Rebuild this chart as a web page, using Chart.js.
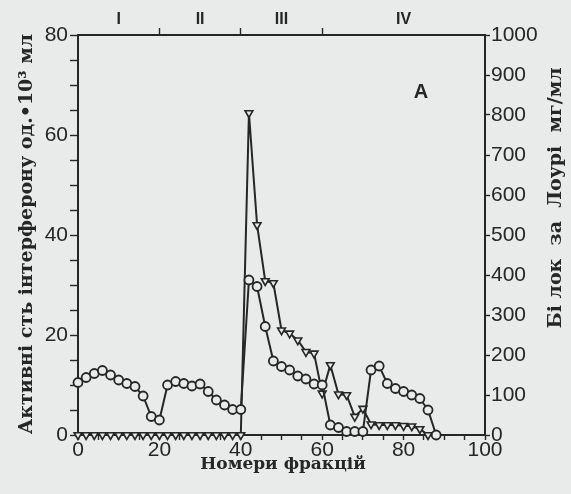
<!DOCTYPE html>
<html>
<head>
<meta charset="utf-8">
<script src="https://cdn.jsdelivr.net/npm/chart.js@4"></script>
<style>
  html, body { margin: 0; padding: 0; background: #e9eaea; }
  #wrap { width: 571px; height: 494px; position: relative; }
</style>
</head>
<body>
<div id="wrap"><canvas id="myChart"></canvas></div>
<script>
// interferon activity (circles, left axis)
const fracActivity = [0, 2, 4, 6, 8, 10, 12, 14, 16, 18, 20, 22, 24, 26, 28, 30, 32, 34, 36, 38, 40,
    42, 44, 46, 48, 50, 52, 54, 56, 58, 60, 62, 64, 66, 68, 70, 72, 74, 76, 78, 80, 82, 84, 86, 88];
const activity = [10.5, 11.5, 12.3, 12.9, 12, 11, 10.3, 9.7, 7.8, 3.7, 3, 10, 10.7, 10.3, 9.8, 10.2, 8.7, 7, 6, 5.1, 5.1,
    31, 29.7, 21.7, 14.8, 13.7, 13, 11.8, 11.2, 10.2, 10, 2, 1.5, 0.7, 0.7, 0.7, 13, 13.8, 10.3, 9.3, 8.7, 8, 7.3, 5, 0];

// protein by Lowry (triangles, right axis)
const fracProtein = [0, 2, 4, 6, 8, 10, 12, 14, 16, 18, 20, 22, 24, 26, 28, 30, 32, 34, 36, 38, 40,
    42, 44, 46, 48, 50, 52, 54, 56, 58, 60, 62, 64, 66, 68, 70, 72, 74, 76, 78, 80, 82, 84, 86];
const protein = [0, 0, 0, 0, 0, 0, 0, 0, 0, 0, 0, 0, 0, 0, 0, 0, 0, 0, 0, 0, 0,
    805, 525, 385, 380, 262, 254, 237, 208, 204, 104, 175, 102, 100, 46, 66, 27, 25, 25, 25, 23, 22, 15, 0];

const leftTicks = [0, 20, 40, 60, 80];
const rightTicks = [0, 100, 200, 300, 400, 500, 600, 700, 800, 900, 1000];
const xTicks = [0, 20, 40, 60, 80, 100];
const sectionBounds = [20, 40, 60];
const sectionLabels = { 10: 'I', 30: 'II', 50: 'III', 80: 'IV' };

const ink = '#262626';
const paper = '#e9eaea';
const tickFont = { family: '"Liberation Sans", sans-serif', size: 21 };

const titles = {
    id: 'titles',
    afterDraw(chart) {
        const c = chart.ctx;
        c.save();
        c.fillStyle = ink;
        c.textAlign = 'center';
        c.textBaseline = 'middle';
        c.font = 'bold 17px "DejaVu Serif", serif';
        c.fillText('Номери фракцій', 283, 465);
        c.font = 'bold 20px "Liberation Sans", sans-serif';
        c.fillText('А', 421, 92);
        c.font = 'bold 19px "DejaVu Serif", serif';
        c.translate(27, 234);
        c.rotate(-Math.PI / 2);
        c.fillText('Активні сть інтерферону од.•10³ мл', 0, 0);
        c.restore();
        c.save();
        c.fillStyle = ink;
        c.textAlign = 'center';
        c.textBaseline = 'middle';
        c.font = 'bold 19px "DejaVu Serif", serif';
        c.translate(556, 198);
        c.rotate(-Math.PI / 2);
        c.fillText('Бі лок  за  Лоурі  мг/мл', 0, 0);
        c.restore();
    }
};

const ctx = document.getElementById('myChart').getContext('2d');
const myChart = new Chart(ctx, {
    type: 'line',
    data: {
        datasets: [{
            label: 'Активність інтерферону',
            data: fracActivity.map((x, i) => ({ x: x, y: activity[i] })),
            yAxisID: 'y',
            borderColor: ink,
            borderWidth: 2,
            pointStyle: 'circle',
            pointRadius: 4.5,
            pointBorderWidth: 1.8,
            pointBorderColor: ink,
            pointBackgroundColor: paper,
            tension: 0,
            clip: false
        }, {
            label: 'Білок за Лоурі',
            data: fracProtein.map((x, i) => ({ x: x, y: protein[i] })),
            yAxisID: 'y2',
            borderColor: ink,
            borderWidth: 2,
            pointStyle: 'triangle',
            rotation: 180,
            pointRadius: 4.5,
            pointBorderWidth: 1.6,
            pointBorderColor: ink,
            pointBackgroundColor: paper,
            tension: 0,
            clip: false
        }]
    },
    options: {
        responsive: true,
        maintainAspectRatio: false,
        animation: false,
        layout: { padding: 0 },
        plugins: { legend: { display: false }, tooltip: { enabled: false } },
        scales: {
            x: {
                type: 'linear',
                position: 'bottom',
                min: 0, max: 100,
                afterFit: (s) => { s.height = 59; },
                ticks: {
                    stepSize: 5, autoSkip: false, maxRotation: 0, padding: -2,
                    color: ink, font: tickFont,
                    callback: (v) => xTicks.includes(v) ? v : ''
                },
                grid: { drawOnChartArea: false, tickLength: 5, color: ink, tickWidth: 1.4 },
                border: { display: true, color: ink, width: 2 }
            },
            top: {
                type: 'linear',
                position: 'top',
                min: 0, max: 100,
                afterFit: (s) => { s.height = 35; },
                afterBuildTicks: (axis) => {
                    const vals = sectionBounds.concat(Object.keys(sectionLabels).map(Number)).sort((a, b) => a - b);
                    axis.ticks = vals.map(v => ({ value: v }));
                },
                ticks: {
                    autoSkip: false, maxRotation: 0, padding: -1,
                    color: ink, font: { family: '"Liberation Sans", sans-serif', size: 16, weight: 'bold' },
                    callback: (v) => sectionLabels[v] || ''
                },
                grid: {
                    drawOnChartArea: false, tickLength: 7, tickWidth: 1.4,
                    tickColor: (c) => (c.tick && sectionBounds.includes(c.tick.value)) ? ink : 'rgba(0,0,0,0)',
                    color: ink
                },
                border: { display: true, color: ink, width: 2 }
            },
            y: {
                type: 'linear',
                position: 'left',
                min: 0, max: 80,
                afterFit: (s) => { s.width = 78; },
                ticks: {
                    stepSize: 5, autoSkip: false, padding: 2,
                    color: ink, font: tickFont,
                    callback: (v) => leftTicks.includes(v) ? v : ''
                },
                grid: { drawOnChartArea: false, tickLength: 8, color: ink, tickWidth: 1.4 },
                border: { display: true, color: ink, width: 2 }
            },
            y2: {
                type: 'linear',
                position: 'right',
                min: 0, max: 1000,
                afterFit: (s) => { s.width = 86; },
                ticks: {
                    stepSize: 100, autoSkip: false, padding: 1,
                    color: ink, font: tickFont,
                    callback: (v) => rightTicks.includes(v) ? v : ''
                },
                grid: { drawOnChartArea: false, tickLength: 5, color: ink, tickWidth: 1.4 },
                border: { display: true, color: ink, width: 2 }
            }
        }
    },
    plugins: [titles]
});
</script>
</body>
</html>
